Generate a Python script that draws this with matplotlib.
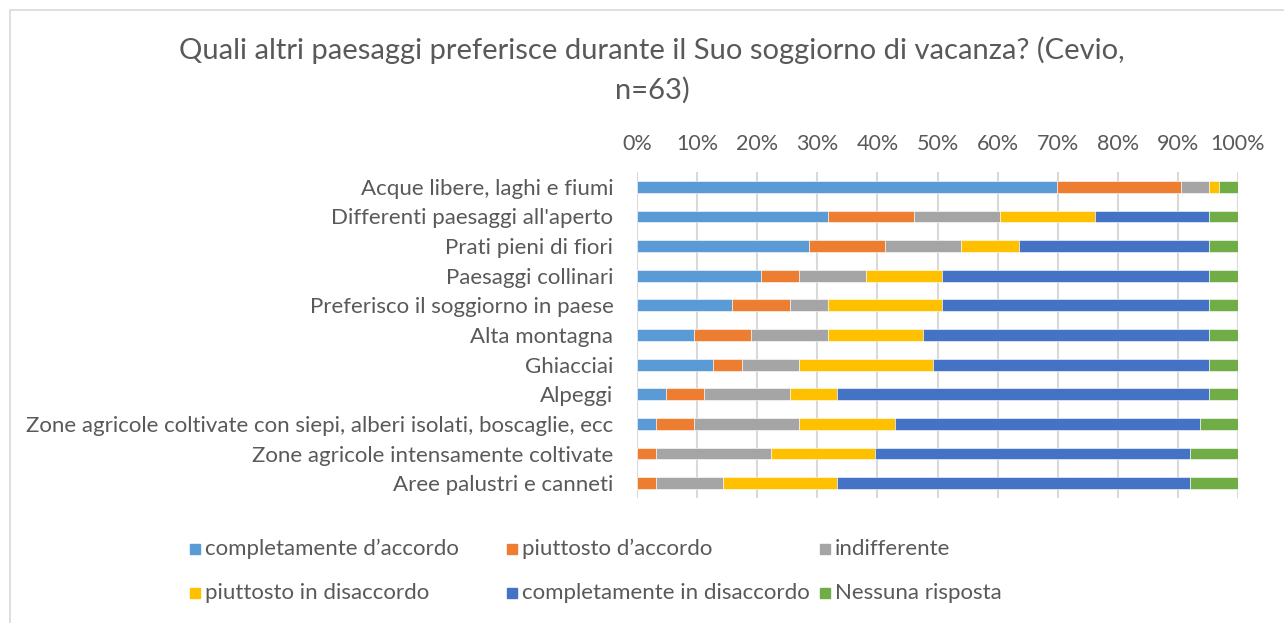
import numpy as np
import matplotlib
matplotlib.use("Agg")
import matplotlib.pyplot as plt
from matplotlib.patches import Rectangle

plt.rcParams['font.family'] = ['Lato', 'DejaVu Sans']

# risposte (n=63)
n = 63
categorie = ["Acque libere, laghi e fiumi",
             "Differenti paesaggi all'aperto",
             "Prati pieni di fiori",
             "Paesaggi collinari",
             "Preferisco il soggiorno in paese",
             "Alta montagna",
             "Ghiacciai",
             "Alpeggi",
             "Zone agricole coltivate con siepi, alberi isolati, boscaglie, ecc",
             "Zone agricole intensamente coltivate",
             "Aree palustri e canneti"]
completamente_accordo = [44, 20, 18, 13, 10, 6, 8, 3, 2, 0, 0]
piuttosto_accordo = [13, 9, 8, 4, 6, 6, 3, 4, 4, 2, 2]
indifferente = [3, 9, 8, 7, 4, 8, 6, 9, 11, 12, 7]
piuttosto_disaccordo = [1, 10, 6, 8, 12, 10, 14, 5, 10, 11, 12]
completamente_disaccordo = [0, 12, 20, 28, 28, 30, 29, 39, 32, 33, 37]
nessuna_risposta = [2, 3, 3, 3, 3, 3, 3, 3, 4, 5, 5]

serie = ["completamente d\u2019accordo", "piuttosto d\u2019accordo", "indifferente",
         "piuttosto in disaccordo", "completamente in disaccordo", "Nessuna risposta"]
colori = ["#5B9BD5", "#ED7D31", "#A5A5A5", "#FFC000", "#4472C4", "#70AD47"]
valori = [completamente_accordo, piuttosto_accordo, indifferente,
          piuttosto_disaccordo, completamente_disaccordo, nessuna_risposta]

W, H = 1284, 623
fig = plt.figure(figsize=(W / 100, H / 100), dpi=100)
# cornice del grafico
fig.patches.append(Rectangle((10 / W, -0.01), 1.0, (H - 10) / H + 0.01, transform=fig.transFigure,
                             fill=False, edgecolor="#D9D9D9", linewidth=1.2))

ax = fig.add_axes([637 / W, 1 - 498 / H, 601 / W, 326 / H])
y = np.arange(len(categorie))
left = np.zeros(len(categorie))
for nome, col, v in zip(serie, colori, valori):
    pct = np.array(v) / n * 100
    ax.barh(y, pct, left=left, height=0.4, color=col, edgecolor="white", linewidth=0.4, zorder=3)
    left += pct

ax.set_xlim(0, 100)
ax.set_ylim(len(categorie) - 0.5, -0.5)
ax.set_xticks(np.arange(0, 101, 10))
ax.set_xticklabels([f"{t}%" for t in range(0, 101, 10)])
ax.xaxis.tick_top()
ax.set_yticks(y)
ax.set_yticklabels(categorie)
ax.tick_params(axis="both", length=0, colors="#595959")
ax.tick_params(axis="x", pad=13, labelsize=15.5)
ax.tick_params(axis="y", pad=17, labelsize=16)
ax.grid(axis="x", color="#D9D9D9", linewidth=1.5, zorder=0)
for s in ax.spines.values():
    s.set_visible(False)

fig.text(652 / W, 1 - 50 / H,
         "Quali altri paesaggi preferisce durante il Suo soggiorno di vacanza? (Cevio,",
         ha="center", va="center", fontsize=21, color="#595959")
fig.text(652 / W, 1 - 90 / H, "n=63)", ha="center", va="center", fontsize=21, color="#595959")

# legenda
pos_x = [190, 507, 820]
pos_y = [549, 593]
for i, (nome, col) in enumerate(zip(serie, colori)):
    lx = pos_x[i % 3]
    ly = pos_y[i // 3]
    fig.patches.append(Rectangle((lx / W, 1 - (ly + 5) / H), 10 / W, 10 / H,
                                 transform=fig.transFigure, color=col))
    fig.text((lx + 15) / W, 1 - ly / H, nome, ha="left", va="center",
             fontsize=16, color="#595959")

fig.savefig("out.png", dpi=100)
